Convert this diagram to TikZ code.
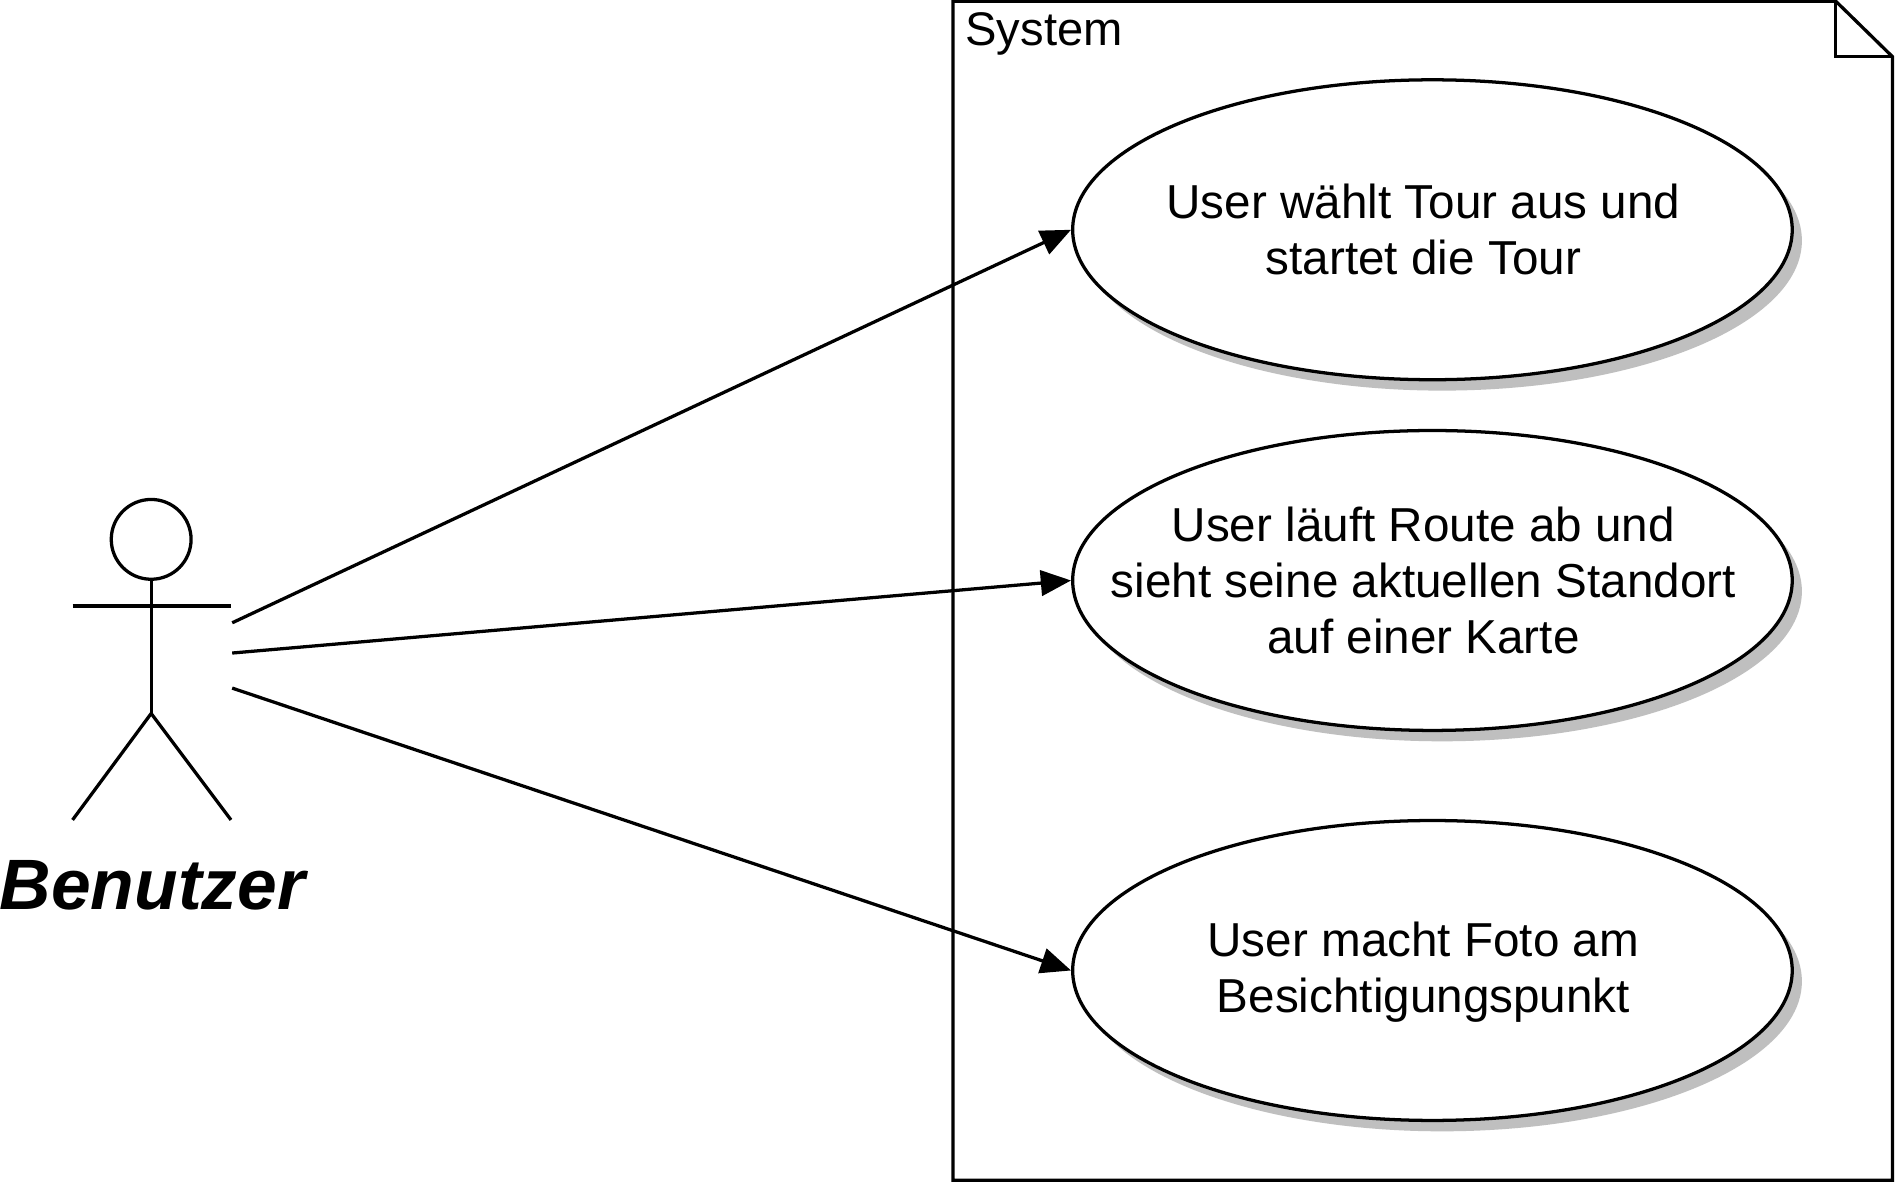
\documentclass[tikz,border=0pt]{standalone}
\usepackage{fontspec}
\setmainfont{Liberation Sans}
\usetikzlibrary{shapes.geometric,arrows.meta}
\begin{document}
\begin{tikzpicture}[x=0.5pt,y=-0.5pt,
  line width=1.35pt,
  usecase/.style={ellipse,draw,fill=white,minimum width=297.5pt,minimum height=124pt,inner sep=0pt},
  uctext/.style={inner sep=0pt,align=center,font=\fontsize{19.7}{23}\selectfont},
  ucshadow/.style={ellipse,fill=black!25,minimum width=297.5pt,minimum height=124pt,inner sep=0pt},
  assoc/.style={-{Triangle[length=12.5pt,width=10.5pt]}},
]
\useasboundingbox[fill=white] (0,0) rectangle (1567,978);
% system frame
\draw (788,1) -- (1518,1) -- (1565,47) -- (1565,976) -- (788,976) -- cycle;
\draw (1518,1) -- (1518,47) -- (1565,47);
\node[anchor=base west,inner sep=0pt,font=\fontsize{19.5}{23}\selectfont] (sys) at (797,38) {System};
% shadows
\node[ucshadow] (s1) at (1192.5,199) {};
\node[ucshadow] (s2) at (1192.5,489) {};
\node[ucshadow] (s3) at (1192.5,811.5) {};
% use cases
\node[usecase] (uc1) at (1184.5,190) {};
\node[usecase] (uc2) at (1184.5,480) {};
\node[usecase] (uc3) at (1184.5,802.5) {};
\node[uctext] (t1) at (1177,190) {User wählt Tour aus und\\startet die Tour};
\node[uctext] (t2) at (1177,480) {User läuft Route ab und\\sieht seine aktuellen Standort\\auf einer Karte};
\node[uctext] (t3) at (1177,804) {User macht Foto am\\Besichtigungspunkt};
% actor
\node[circle,draw,minimum size=33pt,inner sep=0pt] (head) at (125,446) {};
\coordinate (hip) at (125,590);
\coordinate (armL) at (60,501);
\coordinate (armR) at (191,501);
\coordinate (legL) at (60,678);
\coordinate (legR) at (191,678);
\draw (head.south) -- (hip);
\draw (armL) -- (armR);
\draw (legL) -- (hip) -- (legR);
\node[anchor=base,inner sep=0pt,font=\fontsize{29.5}{34}\selectfont\bfseries\itshape] (actor) at (126,752) {Benutzer};
% associations
\coordinate (a1) at (192,515);
\coordinate (a2) at (192,540);
\coordinate (a3) at (192,569);
\draw[assoc] (a1) -- (uc1.west);
\draw[assoc] (a2) -- (uc2.west);
\draw[assoc] (a3) -- (uc3.west);
\end{tikzpicture}
\end{document}
